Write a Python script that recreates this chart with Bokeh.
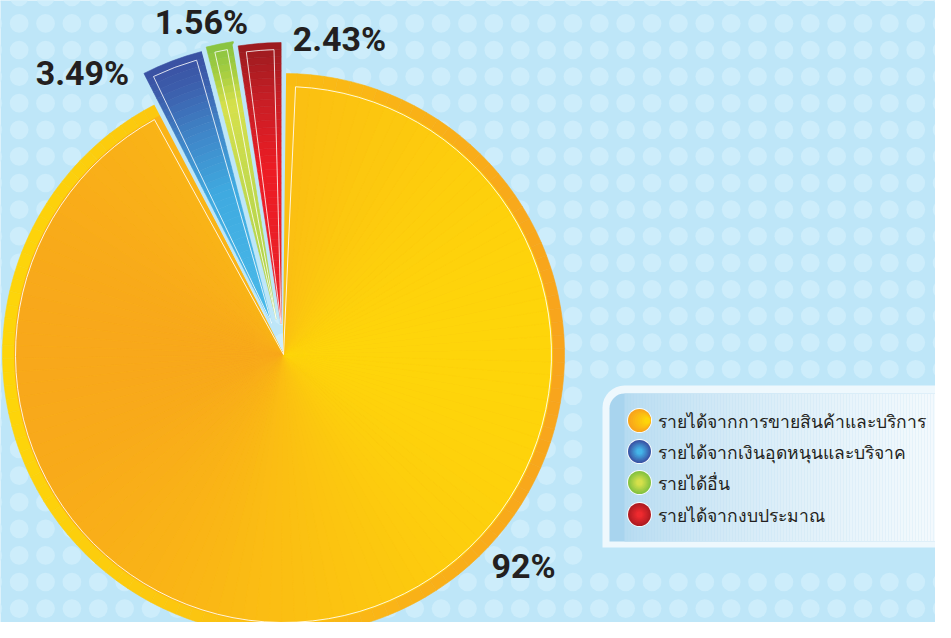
import numpy as np
from bokeh.plotting import figure
from bokeh.models import Range1d, BoxAnnotation
from bokeh.embed import file_html
from bokeh.resources import INLINE
from bokeh.core.properties import value

# ---------------- data ----------------
categories = ["รายได้จากการขายสินค้าและบริการ",
              "รายได้จากเงินอุดหนุนและบริจาค",
              "รายได้อื่น",
              "รายได้จากงบประมาณ"]
shares = [92.0, 3.49, 1.56, 2.43]
share_labels = ["92%", "3.49%", "1.56%", "2.43%"]

# ---------------- layout / style ----------------
PAGE_H = 638
BG = "#bee6f8"
DOT = "#cdedfb"
CX, CY = 291, PAGE_H - 362     # pie centre (data units == pixels)
R = 281
RIM = 12
EXPLODE = [0, 33, 36, 31]

def hex2rgb(h):
    h = h.lstrip("#")
    return np.array([int(h[i:i + 2], 16) for i in (0, 2, 4)], float)

def lerp(c1, c2, t):
    a, b = hex2rgb(c1), hex2rgb(c2)
    c = a + (b - a) * t
    return "#%02x%02x%02x" % tuple(int(round(v)) for v in c)

def stops_color(stops, t):
    for (t0, c0), (t1, c1) in zip(stops[:-1], stops[1:]):
        if t <= t1:
            return lerp(c0, c1, (t - t0) / (t1 - t0) if t1 > t0 else 0)
    return stops[-1][1]

p = figure(width=935, height=622, x_range=Range1d(8, 943), y_range=Range1d(8, 630),
           output_backend="svg", toolbar_location=None, min_border=0)
p.axis.visible = False
p.grid.visible = False
p.outline_line_color = None
p.background_fill_color = BG
p.border_fill_color = BG

# background dot pattern (decoration)
gx = np.arange(0.3, 960, 26.37)
gy = np.arange(4.3, 650, 26.6)
XX, YY = np.meshgrid(gx, gy)
XX, YY = XX.ravel(), YY.ravel()
keep = ~((XX > 598) & (YY > 382) & (YY < 565))
p.scatter(XX[keep], PAGE_H - YY[keep], size=18.7, marker="circle",
          fill_color=DOT, line_color=None)

# ---------------- pie ----------------
total = sum(shares)
order = [3, 2, 1, 0]          # counter-clockwise from 12 o'clock
angles = {}
a = np.pi / 2
for i in order:
    a1 = a + shares[i] / total * 2 * np.pi
    angles[i] = (a, a1)
    a = a1

# big slice: fan of sub-wedges to imitate the horizontal gradient
a0, a1 = angles[0]
n = 120
edges = np.linspace(a0, a1, n + 1)
s0, s1 = edges[:-1], edges[1:]
mid = (s0 + s1) / 2
t = (1 + np.cos(mid)) / 2
rim_cols = [lerp("#fdd50a", "#f8a51c", v) for v in t]
in_cols = [lerp("#f8a81b", "#fed50a", v) for v in t]
p.wedge(x=CX, y=CY, radius=R, start_angle=s0, end_angle=s1,
        fill_color=rim_cols, line_color=rim_cols, line_width=0.6)
p.wedge(x=CX, y=CY, radius=R - RIM, start_angle=s0, end_angle=s1,
        fill_color=in_cols, line_color=in_cols, line_width=0.6)
p.wedge(x=CX, y=CY, radius=R - RIM - 1, start_angle=a0 + 0.03, end_angle=a1 - 0.045,
        fill_color=None, line_color="white", line_width=1, line_alpha=0.85)

grad = {
    1: [(0, "#4abbea"), (0.5, "#3faae0"), (0.72, "#3f86c8"), (0.9, "#3c5eac"), (1, "#3a50a2")],
    2: [(0, "#a9d047"), (0.5, "#c3da4d"), (0.78, "#d6e04b"), (0.9, "#a5cd40"), (1, "#86c341")],
    3: [(0, "#e9212a"), (0.55, "#ed1c24"), (0.8, "#c71e25"), (1, "#9a1b1f")],
}
K = 40
for i in (1, 2, 3):
    b0, b1 = angles[i]
    m = (b0 + b1) / 2
    ex = CX + EXPLODE[i] * np.cos(m)
    ey = CY + EXPLODE[i] * np.sin(m)
    # light halo around the exploded slice
    p.wedge(x=ex, y=ey, radius=R + 2, start_angle=b0 - 0.012, end_angle=b1 + 0.012,
            fill_color=BG, line_color=BG, line_width=4)
    rr = np.linspace(0, R, K + 1)
    cols = [stops_color(grad[i], (r0 + r1) / 2 / R) for r0, r1 in zip(rr[:-1], rr[1:])]
    p.annular_wedge(x=ex, y=ey, inner_radius=rr[:-1], outer_radius=rr[1:],
                    start_angle=b0, end_angle=b1,
                    fill_color=cols, line_color=cols, line_width=0.6)
    d = 0.026
    p.wedge(x=ex, y=ey, radius=R - 7, start_angle=b0 + d, end_angle=b1 - d,
            fill_color=None, line_color="white", line_width=1, line_alpha=0.8)

# percentage labels (glyph baselines in page pixels, minus renderer offset)
lab_x = [531, 90, 209, 347]
lab_base = [585, 92, 41, 58]
lab_y = [PAGE_H - (b - 12) for b in lab_base]
p.text(x=lab_x, y=lab_y, text=share_labels, text_font=value("Roboto"),
       text_font_style="bold", text_font_size="34px", text_color="#231f20",
       text_align="center", text_baseline="alphabetic")

# ---------------- legend ----------------
outer = BoxAnnotation(left=610, right=975, bottom=PAGE_H - 555, top=PAGE_H - 393,
                      fill_color="#eef8fd", fill_alpha=1, line_color=None,
                      border_radius=(22, 0, 0, 0), level="underlay")
inner = BoxAnnotation(left=617, right=946, bottom=PAGE_H - 549, top=PAGE_H - 401,
                      fill_color="#a8d4ee", fill_alpha=1, line_color=None,
                      border_radius=(15, 0, 0, 0), level="underlay")
p.add_layout(outer)
p.add_layout(inner)
qx = np.arange(632, 946, 3.0)
qt = ((qx - 617) / (946 - 617)) ** 0.55
qcols = [lerp("#a8d4ee", "#f4fafd", v) for v in qt]
p.quad(left=qx, right=qx + 3.2, bottom=PAGE_H - 549, top=PAGE_H - 401,
       fill_color=qcols, line_color=None)

ly = [PAGE_H - 428, PAGE_H - 459, PAGE_H - 490, PAGE_H - 522]
lxc = 647
p.scatter(x=[lxc] * 4, y=ly, size=25, marker="circle", fill_color="white",
          line_color=None, fill_alpha=0.9)
leg_rim = ["#f8a51c", "#3a56a6", "#86c341", "#b01c22"]
leg_ctr = ["#fed50a", "#45b4e8", "#d6e04b", "#ee2a2f"]
steps = 8
for k in range(steps):
    f = k / (steps - 1)
    rad = 11.5 - f * 8.5
    for j in range(4):
        if j == 0:
            x = lxc + (11.5 - rad) * 0.9
        else:
            x = lxc
        p.circle(x=[x], y=[ly[j]], radius=rad,
                 fill_color=lerp(leg_rim[j], leg_ctr[j], f), line_color=None)

p.text(x=[665] * 4, y=ly, text=categories, text_font=value("Noto Sans"),
       text_font_size="17.5px", text_color="#231f20", text_baseline="middle")

open("out.html", "w").write(file_html(p, INLINE))
